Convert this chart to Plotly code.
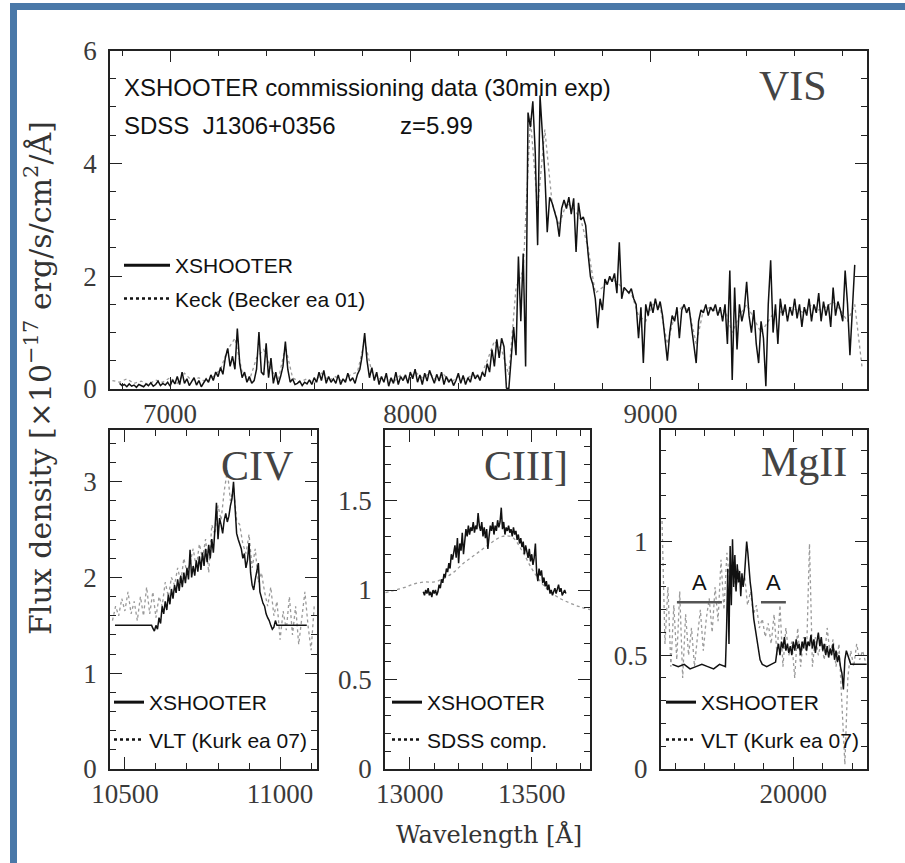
import plotly.graph_objects as go

W, H = 905, 863

# ---------------- VIS panel data (flux in 1e-17 erg/s/cm2/A) ----------------
vis_wl_start, vis_wl_step = 6790, 10
vis_xshooter = [
    0.10, 0.06, 0.08, 0.04, 0.09, 0.05, 0.07, 0.03, 0.08, 0.06,
    0.04, 0.09, 0.06, 0.11, 0.05, 0.08, 0.14, 0.06, 0.10, 0.07,
    0.12, 0.05, 0.16, 0.09, 0.22, 0.08, 0.30, 0.10, 0.18, 0.06,
    0.14, 0.20, 0.07, 0.15, 0.04, 0.10, 0.18, 0.12, 0.25, 0.15,
    0.30, 0.22, 0.38, 0.26, 0.55, 0.72, 0.40, 0.58, 0.35, 1.07,
    0.45, 0.20, 0.30, 0.12, 0.22, 0.10, 0.15, 0.35, 1.01, 0.30,
    0.25, 0.81, 0.20, 0.55, 0.10, 0.30, 0.08, 0.22, 0.40, 0.84,
    0.35, 0.12, 0.18, 0.08, 0.10, 0.14, 0.06, 0.12, 0.09, 0.16,
    0.08, 0.20, 0.12, 0.30, 0.15, 0.33, 0.10, 0.22, 0.12, 0.18,
    0.10, 0.25, 0.08, 0.18, 0.12, 0.28, 0.14, 0.20, 0.10, 0.26,
    0.35, 0.60, 0.99, 0.50, 0.20, 0.38, 0.15, 0.30, 0.08, 0.22,
    0.12, 0.28, 0.05, 0.20, 0.10, 0.30, 0.08, 0.22, 0.15, 0.25,
    0.10, 0.30, 0.18, 0.35, 0.12, 0.25, 0.08, 0.28, 0.14, 0.33,
    0.20, 0.10, 0.26, 0.14, 0.30, 0.08, 0.22, 0.12, 0.18, 0.06,
    0.15, 0.28, 0.10, 0.24, 0.08, 0.20, 0.12, 0.30, 0.18, 0.25,
    0.15, 0.30, 0.22, 0.45, 0.30, 0.70, 0.40, 0.88, 0.55, 0.90,
    0.75, 0.02, 0.00, 0.50, 1.10, 0.60, 2.35, 1.20, 2.40, 0.40,
    4.90, 4.64, 5.10, 4.20, 2.55, 5.20, 4.50, 3.82, 2.78, 3.40,
    3.30, 3.15, 3.00, 2.70, 3.20, 3.35, 3.20, 3.40, 3.10, 3.38,
    2.43, 3.30, 3.00, 3.05, 2.90, 2.40, 1.99, 1.85, 1.60, 1.08,
    1.60, 1.40, 1.95, 1.85, 2.00, 1.90, 2.05, 1.70, 2.60, 1.60,
    1.80, 1.75, 1.70, 1.78, 1.60, 1.50, 0.90, 1.45, 0.46, 1.50,
    1.30, 1.55, 1.35, 1.60, 1.40, 1.55, 1.30, 0.90, 0.50, 1.00,
    1.30, 1.20, 1.45, 0.90, 1.40, 1.50, 1.35, 1.45, 1.10, 0.70,
    0.46, 1.20, 1.40, 1.35, 1.50, 1.30, 1.45, 1.38, 1.50, 1.30,
    1.45, 1.20, 1.50, 0.80, 2.10, 0.16, 1.80, 0.70, 1.50, 1.20,
    1.40, 1.90, 1.30, 1.00, 1.40, 0.80, 0.46, 1.20, 0.90, 0.05,
    1.50, 2.28, 1.00, 1.50, 0.80, 1.60, 1.30, 1.50, 1.20, 1.45,
    1.30, 1.60, 1.25, 1.50, 1.10, 1.45, 1.30, 1.60, 1.20, 1.50,
    1.35, 1.70, 1.20, 1.55, 1.30, 1.50, 1.10, 1.80, 1.30, 1.55,
    1.40, 1.20, 2.10, 1.50, 0.60, 1.40, 2.20,
]
keck_wl_start, keck_wl_step = 6760, 30
keck_flux = [
    0.15, 0.12, 0.18, 0.10, 0.14, 0.08, 0.16, 0.12, 0.20, 0.10,
    0.28, 0.15, 0.20, 0.12, 0.22, 0.35, 0.70, 0.90, 0.30, 0.15,
    0.55, 0.70, 0.35, 0.15, 0.75, 0.20, 0.12, 0.18, 0.10, 0.28,
    0.15, 0.22, 0.12, 0.25, 0.30, 0.85, 0.30, 0.18, 0.22, 0.12,
    0.25, 0.15, 0.30, 0.20, 0.28, 0.15, 0.25, 0.12, 0.22, 0.18,
    0.25, 0.20, 0.50, 0.85, 0.70, 0.25, 1.80, 2.10, 4.80, 3.20,
    4.60, 3.30, 2.90, 3.30, 3.20, 3.00, 2.50, 1.70, 1.80, 1.95,
    1.90, 1.75, 1.70, 1.30, 1.20, 1.50, 1.45, 0.80, 1.30, 1.45,
    1.40, 0.80, 1.40, 1.45, 1.35, 1.40, 1.00, 1.30, 1.50, 1.25,
    1.00, 1.20, 1.40, 1.35, 1.45, 1.40, 1.35, 1.50, 1.40, 1.45,
    1.55, 1.40, 1.20, 1.50, 0.40,
]

# ---------------- CIV panel ----------------
civ_flat_left = [10468, 10586]
civ_flat_right = [10995, 11086]
civ_flat_level = 1.5
civ_wl_start, civ_wl_step = 10590, 5
civ_xshooter = [
    1.47, 1.44, 1.50, 1.46, 1.58, 1.52, 1.70, 1.62, 1.75, 1.66,
    1.82, 1.72, 1.88, 1.78, 1.92, 1.84, 1.98, 1.86, 2.02, 1.90,
    2.05, 1.94, 2.10, 1.98, 2.29, 2.00, 2.12, 2.02, 2.18, 2.06,
    2.22, 2.08, 2.26, 2.12, 2.30, 2.16, 2.34, 2.20, 2.40, 2.26,
    2.50, 2.78, 2.40, 2.62, 2.55, 2.46, 2.60, 2.67, 2.58, 2.64,
    2.75, 2.82, 3.00, 2.70, 2.46, 2.40, 2.36, 2.30, 2.20, 2.25,
    2.10, 2.18, 2.36, 2.05, 1.92, 1.87, 1.98, 2.05, 2.15, 1.85,
    1.78, 1.73, 1.70, 1.62, 1.58, 1.55, 1.50, 1.46, 1.48, 1.55,
    1.50,
]
civ_vlt_start, civ_vlt_step = 10460, 10
civ_vlt = [
    1.55, 1.70, 1.60, 1.78, 1.65, 1.85, 1.62, 1.75, 1.55, 1.80,
    1.60, 1.90, 1.62, 1.85, 1.58, 1.80, 1.70, 1.95, 1.80, 2.00,
    1.92, 2.10, 1.95, 2.20, 2.05, 2.15, 2.30, 2.10, 2.35, 2.20,
    2.40, 2.05, 2.55, 2.45, 2.75, 2.60, 2.90, 3.12, 2.80, 2.95,
    2.60, 2.55, 2.35, 2.25, 2.45, 2.10, 2.30, 1.95, 2.05, 1.85,
    1.70, 1.90, 1.60, 1.75, 1.35, 1.65, 1.45, 1.80, 1.40, 1.70,
    1.30, 1.60, 1.85, 1.50, 1.24, 1.70,
]

# ---------------- CIII] panel ----------------
ciii_wl_start, ciii_wl_step = 13055, 5
ciii_xshooter = [
    0.99, 0.97, 1.00, 0.98, 1.01, 0.97, 0.99, 0.96, 1.00, 0.98,
    1.00, 0.97, 0.99, 1.03, 1.01, 1.06, 1.04, 1.09, 1.07, 1.12,
    1.10, 1.15, 1.12, 1.20, 1.17, 1.22, 1.25, 1.18, 1.29, 1.15,
    1.26, 1.22, 1.32, 1.20, 1.28, 1.34, 1.30, 1.36, 1.31, 1.35,
    1.33, 1.38, 1.32, 1.36, 1.34, 1.43, 1.36, 1.33, 1.38, 1.30,
    1.35, 1.29, 1.34, 1.23, 1.30, 1.36, 1.33, 1.38, 1.31, 1.36,
    1.33, 1.39, 1.35, 1.38, 1.46, 1.34, 1.38, 1.31, 1.35, 1.33,
    1.36, 1.32, 1.34, 1.30, 1.35, 1.31, 1.33, 1.28, 1.31, 1.26,
    1.29, 1.24, 1.27, 1.20, 1.25, 1.22, 1.18, 1.23, 1.16, 1.20,
    1.14, 1.18, 1.26, 1.10, 1.05, 1.12, 1.08, 1.11, 1.04, 1.07,
    1.02, 1.05, 1.00, 1.03, 0.98, 1.00, 0.97, 0.99, 1.01, 0.98,
    1.00, 1.03, 0.99, 1.01, 0.97, 0.99, 1.00, 0.98,
]
sdss_wl = [12900, 12940, 12980, 13020, 13060, 13100, 13140, 13180, 13220, 13260, 13300,
           13340, 13380, 13420, 13460, 13500, 13540, 13580, 13620, 13660, 13700, 13740]
sdss_comp = [0.985, 1.00, 1.015, 1.035, 1.045, 1.045, 1.065, 1.10, 1.15, 1.19, 1.23,
             1.27, 1.30, 1.295, 1.22, 1.12, 1.04, 0.985, 0.95, 0.925, 0.905, 0.89]

# ---------------- MgII panel ----------------
mg_flat_left_wl = [19180, 19220, 19260, 19300, 19340, 19380, 19420, 19460, 19500, 19540]
mg_flat_left = [0.46, 0.45, 0.46, 0.44, 0.45, 0.46, 0.45, 0.44, 0.46, 0.45]
mg_peak_start, mg_peak_step = 19548, 8
mg_peak = [0.62, 0.88, 0.55, 0.98, 0.72, 1.01, 0.80, 0.94, 0.78, 0.90, 0.82, 0.87,
           0.76, 0.86, 0.80, 0.84, 0.92, 1.00, 0.95, 0.86, 0.82, 0.78, 0.72, 0.66]
mg_mid_wl = [19775, 19790, 19820, 19850, 19870]
mg_mid = [0.48, 0.46, 0.45, 0.46, 0.47]
mg_red_start, mg_red_step = 19880, 10
mg_red = [
    0.47, 0.52, 0.55, 0.50, 0.56, 0.53, 0.58, 0.52, 0.55, 0.51,
    0.54, 0.50, 0.56, 0.52, 0.57, 0.53, 0.55, 0.50, 0.56, 0.53,
    0.58, 0.52, 0.56, 0.54, 0.59, 0.53, 0.57, 0.51, 0.56, 0.60,
    0.54, 0.58, 0.52, 0.55, 0.50, 0.54, 0.49, 0.53, 0.50, 0.55,
    0.48, 0.52, 0.47, 0.50, 0.45, 0.42, 0.35, 0.48, 0.52, 0.50, 0.47,
]
mg_tail_wl = [20390, 20500]
mg_tail = [0.46, 0.46]
mg_vlt_start, mg_vlt_step = 19110, 20
mg_vlt = [
    1.09, 0.55, 0.80, 0.45, 0.72, 0.48, 0.78, 0.40, 0.68, 0.50,
    0.62, 0.45, 0.58, 0.70, 0.52, 0.66, 0.75, 0.60, 0.80, 0.65,
    0.92, 0.70, 0.95, 0.82, 0.90, 0.78, 0.88, 0.80, 0.85, 0.72,
    0.78, 0.68, 0.72, 0.62, 0.66, 0.58, 0.64, 0.55, 0.68, 0.50,
    0.72, 0.45, 0.62, 0.50, 0.56, 0.40, 0.62, 0.45, 0.58, 0.50,
    0.99, 0.45, 0.58, 0.50, 0.56, 0.48, 0.62, 0.50, 0.57, 0.45,
    0.55, 0.30, 0.02, 0.40, 0.52, 0.45, 0.55, 0.48, 0.52, 0.47,
]
atm_bands = [(19211, 19516), (19781, 19950)]
atm_level = 0.733
atm_label = "A"


def grid(start, step, n):
    return [start + step * i for i in range(n)]


BLACK = "#111111"
GRAY = "#9a9a9a"
SANS = "Liberation Sans, Arial, sans-serif"
SERIF = "Liberation Serif, Times New Roman, serif"

fig = go.Figure()

# VIS
fig.add_trace(go.Scatter(x=grid(keck_wl_start, keck_wl_step, len(keck_flux)), y=keck_flux,
                         mode="lines", line=dict(color=GRAY, width=1.3, dash="dot"),
                         showlegend=False, xaxis="x", yaxis="y"))
fig.add_trace(go.Scatter(x=grid(vis_wl_start, vis_wl_step, len(vis_xshooter)), y=vis_xshooter,
                         mode="lines", line=dict(color=BLACK, width=1.5),
                         showlegend=False, xaxis="x", yaxis="y"))
# CIV
fig.add_trace(go.Scatter(x=grid(civ_vlt_start, civ_vlt_step, len(civ_vlt)), y=civ_vlt,
                         mode="lines", line=dict(color=GRAY, width=1.3, dash="dot"),
                         showlegend=False, xaxis="x2", yaxis="y2"))
civ_x = civ_flat_left + grid(civ_wl_start, civ_wl_step, len(civ_xshooter)) + civ_flat_right
civ_y = [civ_flat_level] * 2 + civ_xshooter + [civ_flat_level] * 2
fig.add_trace(go.Scatter(x=civ_x, y=civ_y, mode="lines", line=dict(color=BLACK, width=1.5),
                         showlegend=False, xaxis="x2", yaxis="y2"))
# CIII]
fig.add_trace(go.Scatter(x=sdss_wl, y=sdss_comp, mode="lines", line_shape="spline",
                         line=dict(color=GRAY, width=1.3, dash="dot"),
                         showlegend=False, xaxis="x3", yaxis="y3"))
fig.add_trace(go.Scatter(x=grid(ciii_wl_start, ciii_wl_step, len(ciii_xshooter)), y=ciii_xshooter,
                         mode="lines", line=dict(color=BLACK, width=1.5),
                         showlegend=False, xaxis="x3", yaxis="y3"))
# MgII
fig.add_trace(go.Scatter(x=grid(mg_vlt_start, mg_vlt_step, len(mg_vlt)), y=mg_vlt,
                         mode="lines", line=dict(color=GRAY, width=1.3, dash="dot"),
                         showlegend=False, xaxis="x4", yaxis="y4"))
mg_x = (mg_flat_left_wl + grid(mg_peak_start, mg_peak_step, len(mg_peak)) + mg_mid_wl
        + grid(mg_red_start, mg_red_step, len(mg_red)) + mg_tail_wl)
mg_y = mg_flat_left + mg_peak + mg_mid + mg_red + mg_tail
fig.add_trace(go.Scatter(x=mg_x, y=mg_y, mode="lines", line=dict(color=BLACK, width=1.5),
                         showlegend=False, xaxis="x4", yaxis="y4"))
for lo, hi in atm_bands:
    fig.add_trace(go.Scatter(x=[lo, hi], y=[atm_level, atm_level], mode="lines",
                             line=dict(color="#555555", width=2.5), showlegend=False,
                             xaxis="x4", yaxis="y4"))
    fig.add_annotation(x=(lo + hi) / 2, y=atm_level, xref="x4", yref="y4", text=atm_label,
                       showarrow=False, yanchor="bottom", yshift=5,
                       font=dict(family=SANS, size=22, color="#111"))

# legend-only entries (one legend per panel)
legend_sets = [
    ("legend", "Keck (Becker ea 01)"),
    ("legend2", "VLT (Kurk ea 07)"),
    ("legend3", "SDSS comp."),
    ("legend4", "VLT (Kurk ea 07)"),
]
for i, (lg, comp) in enumerate(legend_sets):
    fig.add_trace(go.Scatter(x=[None], y=[None], mode="lines", name="XSHOOTER",
                             legendgroup=f"a{i}", line=dict(color=BLACK, width=3), legend=lg))
    fig.add_trace(go.Scatter(x=[None], y=[None], mode="lines", name=comp,
                             legendgroup=f"b{i}", line=dict(color=BLACK, width=2.5, dash="dot"),
                             legend=lg))


def px(xp):
    return xp / W


def py(yp):
    return 1 - yp / H


axis_line = dict(showline=True, linecolor="#222", linewidth=1.5, mirror="allticks",
                 ticks="inside", ticklen=12, tickwidth=1.2, tickcolor="#222",
                 showgrid=False, zeroline=False, automargin=False,
                 tickfont=dict(family=SERIF, size=27, color="#3a3a3a"))


def ax(domain, rng, dtick, minor_dtick, anchor, fmt=None, standoff=0):
    d = dict(axis_line)
    d.update(domain=domain, range=rng, dtick=dtick, anchor=anchor, autorange=False,
             ticklabelstandoff=standoff,
             minor=dict(ticks="inside", ticklen=6, tickwidth=1, tickcolor="#222",
                        dtick=minor_dtick, showgrid=False))
    if fmt:
        d["tickformat"] = fmt
    return d


lower_y = [py(769), py(430)]
layout = dict(
    width=W, height=H, autosize=False,
    margin=dict(l=0, r=0, t=0, b=0, pad=0, autoexpand=False),
    paper_bgcolor="white", plot_bgcolor="white",
    xaxis=ax([px(110), px(867)], [6750, 9901], 1000, 200, "y", "d"),
    yaxis=ax([py(389), py(50.5)], [0, 6], 2, 0.5, "x", standoff=6),
    xaxis2=ax([px(110), px(316.7)], [10452, 11118], 500, 100, "y2", "d"),
    yaxis2=ax(lower_y, [0, 3.54], 1, 0.2, "x2", standoff=6),
    xaxis3=ax([px(385), px(590)], [12898, 13739], 500, 100, "y3", "d"),
    yaxis3=ax(lower_y, [0, 1.894], 0.5, 0.1, "x3", standoff=6),
    xaxis4=ax([px(660.7), px(866.7)], [19101, 20498], 1000, 200, "y4", "d"),
    yaxis4=ax(lower_y, [0, 1.49], 0.5, 0.1, "x4", standoff=6),
)

leg_common = dict(bgcolor="rgba(0,0,0,0)", borderwidth=0, xanchor="left", yanchor="top",
                  font=dict(family=SANS, size=21, color="#111"))
layout["legend"] = dict(leg_common, x=px(119), y=py(245), tracegroupgap=3, itemwidth=46)
layout["legend2"] = dict(leg_common, x=px(109), y=py(682), tracegroupgap=7)
layout["legend3"] = dict(leg_common, x=px(387), y=py(682), tracegroupgap=7)
layout["legend4"] = dict(leg_common, x=px(661), y=py(682), tracegroupgap=7)
fig.update_layout(**layout)


def note(text, xp, yp, size, family, xanchor="left", yanchor="middle", color="#111", angle=0):
    fig.add_annotation(text=text, x=px(xp), y=py(yp), xref="paper", yref="paper",
                       showarrow=False, xanchor=xanchor, yanchor=yanchor, textangle=angle,
                       font=dict(family=family, size=size, color=color))


note("XSHOOTER commissioning data (30min exp)", 122, 87, 24, SANS)
note("SDSS\u00a0\u00a0J1306+0356", 122, 125, 24, SANS)
note("z=5.99", 398, 125, 24, SANS)
note("VIS", 829, 86, 42, SERIF, xanchor="right", color="#444")
note("CIV", 295, 466, 42, SERIF, xanchor="right", color="#444")
note("CIII]", 570, 466, 42, SERIF, xanchor="right", color="#444")
note("MgII", 849, 462, 42, SERIF, xanchor="right", color="#444")
note("Wavelength [Å]", 489, 834, 24, "DejaVu Serif", xanchor="center", color="#333")
note("Flux density [×10<sup>−17</sup> erg/s/cm<sup>2</sup>/Å]", 38, 378, 30, "DejaVu Serif",
     xanchor="center", color="#333", angle=-90)

# blue frame of the image (top and left)
fig.add_shape(type="rect", xref="paper", yref="paper", x0=px(10), x1=1, y0=py(10), y1=py(3),
              fillcolor="#4a78a8", line_width=0, layer="above")
fig.add_shape(type="rect", xref="paper", yref="paper", x0=px(10), x1=px(17), y0=0, y1=py(3),
              fillcolor="#4a78a8", line_width=0, layer="above")

fig.write_html("out.html",
               config={"displayModeBar": False},
               post_script="document.body.style.margin='0px';"
                           "document.body.style.overflow='hidden';")
